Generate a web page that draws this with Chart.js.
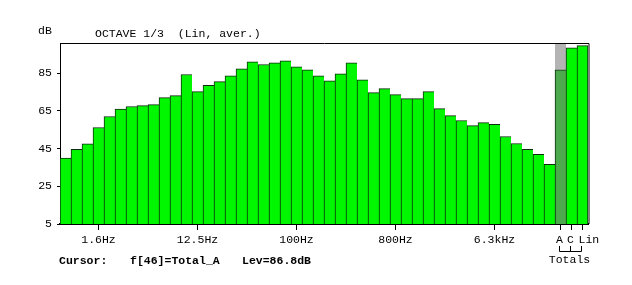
<!DOCTYPE html>
<html>
<head>
<meta charset="utf-8">
<script src="https://cdn.jsdelivr.net/npm/chart.js@4/dist/chart.umd.min.js"></script>
<style>
  html, body { margin: 0; padding: 0; background: #fff; }
  canvas { display: block; }
</style>
</head>
<body>
<canvas id="chart" width="632" height="285"></canvas>
<script>
// bandas de 1/3 de octava (0.8Hz .. 20kHz) y totales
const bands = ["0.8Hz","1Hz","1.25Hz","1.6Hz","2Hz","2.5Hz","3.15Hz","4Hz","5Hz","6.3Hz",
  "8Hz","10Hz","12.5Hz","16Hz","20Hz","25Hz","31.5Hz","40Hz","50Hz","63Hz",
  "80Hz","100Hz","125Hz","160Hz","200Hz","250Hz","315Hz","400Hz","500Hz","630Hz",
  "800Hz","1kHz","1.25kHz","1.6kHz","2kHz","2.5kHz","3.15kHz","4kHz","5kHz","6.3kHz",
  "8kHz","10kHz","12.5kHz","16kHz","20kHz"];
const bandLevels = [40, 44.6, 47.5, 56.2, 62, 66, 67.3, 67.8, 68.3, 72,
  73.1, 84.3, 75.2, 78.5, 80.5, 83.6, 87.3, 91, 89.6, 90.5,
  91.5, 88.4, 86.8, 83.6, 81, 84.7, 90.5, 81.5, 74.7, 76.8,
  73.6, 71.5, 71.5, 75.2, 66.2, 62.5, 59.9, 57.2, 58.8, 57.8,
  51.4, 47.7, 44.6, 41.9, 36.7];
const totals = ["A", "C", "Lin"];
const totalLevels = [86.8, 98.4, 99.6];
const shownTicks = ["1.6Hz", "12.5Hz", "100Hz", "800Hz", "6.3kHz"];
const yTicks = [5, 25, 45, 65, 85];
const cursorLabel = "A";

const labels = bands.concat(totals);
const levels = bandLevels.concat(totalLevels);
const cursorIndex = labels.indexOf(cursorLabel);

const FONT = "'Liberation Mono', 'Courier New', monospace";

// dibuja columna gris del cursor, textos y marco
const extras = {
  id: "extras",
  beforeDatasetsDraw(chart) {
    const ctx = chart.ctx;
    const y = chart.scales.y;
    const bar = chart.getDatasetMeta(0).data[cursorIndex];
    const half = bar.width / 2;
    ctx.save();
    ctx.fillStyle = "#b4b4b4";
    ctx.fillRect(bar.x - half, chart.chartArea.top, bar.width, y.getPixelForValue(levels[cursorIndex]) - chart.chartArea.top);
    ctx.restore();
  },
  afterDraw(chart) {
    const ctx = chart.ctx;
    const area = chart.chartArea;
    const x = chart.scales.x;
    ctx.save();
    // marco superior
    ctx.strokeStyle = "#000";
    ctx.lineWidth = 1;
    ctx.beginPath();
    ctx.moveTo(area.left, area.top + 0.5);
    ctx.lineTo(area.right + 1, area.top + 0.5);
    ctx.lineTo(area.right + 1, area.bottom);
    ctx.stroke();

    ctx.fillStyle = "#000";
    ctx.font = "11.5px " + FONT;
    ctx.textBaseline = "middle";
    ctx.textAlign = "left";
    ctx.fillText("dB", 38, 31);
    ctx.fillText("OCTAVE 1/3  (Lin, aver.)", 95, 34);

    // etiquetas de totales con su corchete
    const px = totals.map(t => Math.round(x.getPixelForValue(labels.indexOf(t))) - 1.5);
    ctx.textAlign = "center";
    ctx.fillText("A", px[0], 240);
    ctx.fillText("C", px[1], 240);
    ctx.textAlign = "left";
    ctx.fillText("Lin", px[2] - 3, 240);
    ctx.beginPath();
    px.forEach(p => { ctx.moveTo(p, 246); ctx.lineTo(p, 251.5); });
    ctx.moveTo(px[0], 251.5);
    ctx.lineTo(px[2], 251.5);
    ctx.stroke();
    ctx.textAlign = "center";
    ctx.fillText("Totals", px[1] - 1, 260);

    // línea de cursor
    ctx.font = "bold 11.5px " + FONT;
    ctx.textAlign = "left";
    ctx.fillText("Cursor:", 59, 261);
    ctx.fillText("f[46]=Total_A", 130, 261);
    ctx.fillText("Lev=86.8dB", 242, 261);
    ctx.restore();
  }
};

new Chart(document.getElementById("chart"), {
  type: "bar",
  data: {
    labels: labels,
    datasets: [{
      data: levels,
      backgroundColor: levels.map((v, i) => i === cursorIndex ? "#4caa4c" : "#00f700"),
      borderColor: "#0c2a0c",
      borderWidth: ctx => ({ left: 1, top: 1, bottom: 0, right: ctx.dataIndex === labels.length - 1 ? 1 : 0 }),
      borderSkipped: false,
      barPercentage: 1,
      categoryPercentage: 1
    }]
  },
  options: {
    responsive: false,
    animation: false,
    layout: { padding: { top: 43, right: 44, left: 0, bottom: 0 } },
    plugins: { legend: { display: false }, tooltip: { enabled: false }, title: { display: false } },
    scales: {
      x: {
        afterFit: s => { s.height = 61; },
        grid: {
          offset: false,
          drawOnChartArea: false,
          tickLength: 6,
          color: ctx => (ctx.tick && (shownTicks.includes(labels[ctx.tick.value]) || totals.includes(labels[ctx.tick.value]))) ? "#000" : "rgba(0,0,0,0)"
        },
        border: { color: "#000", width: 2 },
        ticks: {
          autoSkip: false,
          maxRotation: 0,
          padding: 3,
          color: "#000",
          font: { family: FONT, size: 11.5 },
          callback: (v, i) => shownTicks.includes(labels[i]) ? labels[i] : ""
        }
      },
      y: {
        min: 5,
        max: 101,
        afterFit: s => { s.width = 60; },
        afterBuildTicks: s => { s.ticks = yTicks.map(v => ({ value: v })); },
        grid: { drawOnChartArea: false, tickLength: 3, color: "#000" },
        border: { color: "#000", width: 1 },
        ticks: {
          padding: 5,
          color: "#000",
          font: { family: FONT, size: 11.5 }
        }
      }
    }
  },
  plugins: [extras]
});
</script>
</body>
</html>
